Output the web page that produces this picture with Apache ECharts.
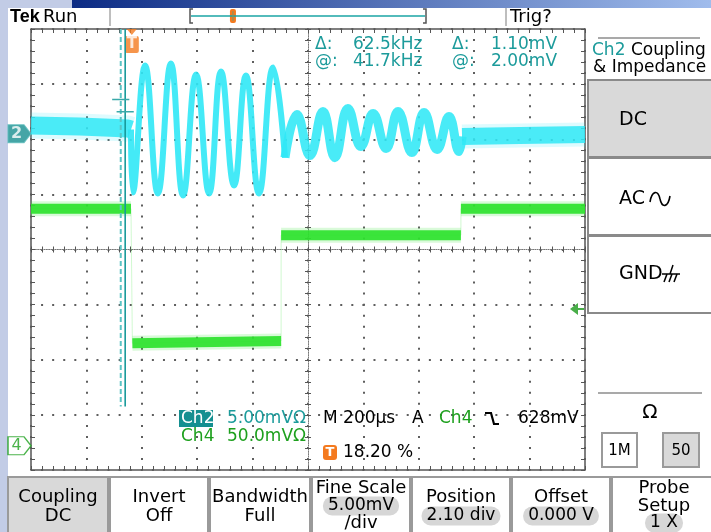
<!DOCTYPE html>
<html>
<head>
<meta charset="utf-8">
<title>Ch2 / Ch4 acquisition</title>
<script src="https://cdn.jsdelivr.net/npm/echarts@6/dist/echarts.min.js"></script>
<style>
  html, body { margin: 0; padding: 0; background: #fff; }
  #scope { width: 711px; height: 532px; }
</style>
</head>
<body>
<div id="scope"></div>
<script>
// ---- acquisition settings ----
const recordLengthUs = 2000;          // 10 div x 200 us
const timePerDivUs = 200;
const triggerPercent = 18.2;
const triggerTimeUs = recordLengthUs * triggerPercent / 100;
const ch2PositionDiv = 2.10;
const ch2MvPerDiv = 5;
const ch4PositionDiv = -3.56;
const ch4MvPerDiv = 50;

// ---- Ch2 waveform (time in us from left of record, mV) ----
const ch2PreTime  = [0, 177, 350, 361];
const ch2PreMv    = [0.74, 0.65, 0.47, 0.38];
const ch2BurstTime = [361, 368, 412, 458, 505, 549, 596, 643, 686, 733, 776, 823, 874, 917];
const ch2BurstMv   = [0.38, -5.33, 6.19, -5.42, 6.37, -5.61, 5.37, -5.42, 5.64, -4.70, 5.28, -5.42, 6.00, -2.17];
const ch2TailTime = [917, 960, 1007, 1054, 1097, 1144, 1191, 1235, 1282, 1325, 1375, 1419, 1466, 1509, 1545, 1556];
const ch2TailMv   = [-2.17, 1.74, -1.98, 2.01, -2.17, 2.29, -1.16, 1.83, -1.34, 2.01, -1.71, 1.92, -1.43, 1.56, -1.61, -0.25];
const ch2PostTime = [1556, 1765, 2000];
const ch2PostMv   = [-0.25, -0.16, -0.07];

// ---- Ch4 logic levels (segment start/end time in us, level in mV) ----
const ch4SegStart   = [0, 366, 903, 1552];
const ch4SegEnd     = [361, 903, 1552, 2000];
const ch4SegStartMv = [215, 93, 191, 215];
const ch4SegEndMv   = [215, 95, 191, 215];
const ch4TriggerArrowMv = 124;

// ---- cursors ----
const cursorOffsetUs = [-40, -24];   // relative to trigger
const cursorLevelMv  = [3.10, 2.00];

// ---- layout ----
const GRID = { left: 31, top: 29, width: 554, height: 441 };
const DIV_X = GRID.width / 10, DIV_Y = GRID.height / 8;
const FONT = '"DejaVu Sans", Verdana, sans-serif';
const TEAL = '#1c9b9b', GREEN = '#1ea01e', ORANGE = '#f47a1f';
const CYAN = '#30e8f6', LIME = '#2ee22e';

const zip = (ts, vs) => ts.map((t, i) => [t, vs[i]]);

// Ch4 data: level segments with gaps, plus full step path for edges
const ch4Levels = [];
const ch4Steps = [];
ch4SegStart.forEach((s, i) => {
  ch4Levels.push([s, ch4SegStartMv[i]], [ch4SegEnd[i], ch4SegEndMv[i]], [ch4SegEnd[i], '-']);
  ch4Steps.push([s, ch4SegStartMv[i]], [ch4SegEnd[i], ch4SegEndMv[i]]);
});

const cursorTimes = cursorOffsetUs.map(o => triggerTimeUs + o);
const cursorTickHalfUs = 31;

function traceLayer(name, data, yAxisIndex, color, width, opacity, smooth) {
  return {
    name, type: 'line', xAxisIndex: 0, yAxisIndex, data,
    symbol: 'none', smooth: smooth || false, silent: true, animation: false,
    lineStyle: { color, width, opacity, cap: 'butt', join: 'round' }
  };
}

const series = [
  traceLayer('ch4edge', ch4Steps, 6, LIME, 1, 0.22),
  traceLayer('ch4halo', ch4Levels, 6, LIME, 15, 0.18),
  traceLayer('ch4', ch4Levels, 6, LIME, 10, 0.92),

  traceLayer('ch2preHalo', zip(ch2PreTime, ch2PreMv), 5, CYAN, 26, 0.16),
  traceLayer('ch2pre', zip(ch2PreTime, ch2PreMv), 5, CYAN, 18, 0.85),
  traceLayer('ch2postHalo', zip(ch2PostTime, ch2PostMv), 5, CYAN, 24, 0.16),
  traceLayer('ch2post', zip(ch2PostTime, ch2PostMv), 5, CYAN, 17, 0.85),
  traceLayer('ch2tail', zip(ch2TailTime, ch2TailMv), 5, CYAN, 9, 0.88, 0.45),
  traceLayer('ch2burst', zip(ch2BurstTime, ch2BurstMv), 5, CYAN, 6, 0.9, 0.45),

  // time cursors (grid top down to readout area)
  {
    type: 'line', xAxisIndex: 0, yAxisIndex: 0, symbol: 'none', silent: true, animation: false,
    data: [[cursorTimes[0], 4], [cursorTimes[0], -2.85]],
    lineStyle: { color: '#5cc4c4', width: 2, type: [5, 3] }
  },
  {
    type: 'line', xAxisIndex: 0, yAxisIndex: 0, symbol: 'none', silent: true, animation: false,
    data: [[cursorTimes[1], 4], [cursorTimes[1], -2.85]],
    lineStyle: { color: '#17999a', width: 1.6 }
  },
  // waveform level ticks at each cursor
  ...cursorTimes.map((t, i) => ({
    type: 'line', xAxisIndex: 0, yAxisIndex: 5, symbol: 'none', silent: true, animation: false,
    data: [[t - cursorTickHalfUs, cursorLevelMv[i]], [t + cursorTickHalfUs, cursorLevelMv[i]]],
    lineStyle: { color: '#3aa9a9', width: 1.6 }
  })),

  // trigger position marker
  {
    type: 'scatter', xAxisIndex: 0, yAxisIndex: 0, clip: false, silent: true, animation: false,
    data: [[triggerTimeUs, 4]],
    symbol: 'path://M2,0 L12,0 L7,6 Z M2,7 L12,7 Q14,7 14,9 L14,22 Q14,24 12,24 L2,24 Q0,24 0,22 L0,9 Q0,7 2,7 Z',
    symbolSize: [14, 24], symbolOffset: [0, 12],
    itemStyle: { color: ORANGE },
    label: { show: true, position: 'inside', formatter: 'T', color: '#fff', fontWeight: 'bold',
             fontSize: 15, fontFamily: FONT, offset: [0, 3.5] }
  },
  // channel ground markers
  {
    type: 'scatter', xAxisIndex: 0, yAxisIndex: 0, clip: false, silent: true, animation: false,
    symbol: 'path://M0,0 L16,0 L23,8.5 L16,17 L0,17 Z', symbolSize: [23, 18], symbolOffset: [-11.5, 0],
    data: [
      { value: [0, ch2PositionDiv],
        itemStyle: { color: '#168f90', borderColor: '#5bbdbd', borderWidth: 1 },
        label: { show: true, position: 'inside', formatter: '2', color: '#fff', fontWeight: 'bold',
                 fontSize: 16, fontFamily: FONT, offset: [-3, 0] } },
      { value: [0, ch4PositionDiv],
        itemStyle: { color: '#fff', borderColor: GREEN, borderWidth: 1.4 },
        label: { show: true, position: 'inside', formatter: '4', color: GREEN,
                 fontSize: 16, fontFamily: FONT, offset: [-3, 0] } }
    ]
  },
  // Ch4 trigger level arrow
  {
    type: 'scatter', xAxisIndex: 0, yAxisIndex: 6, clip: false, silent: true, animation: false,
    data: [[recordLengthUs, ch4TriggerArrowMv]],
    symbol: 'path://M0,6 L8,0 L8,5 L14,5 L14,7 L8,7 L8,12 Z', symbolSize: [14, 12], symbolOffset: [-8, 0],
    itemStyle: { color: '#1c9a1c' }
  }
];

// ---- graticule axes ----
const GRAT = '#5e5e5e';
const hidden = { axisLabel: { show: false }, splitLine: { show: false } };
function tickAxis(extra) {
  return Object.assign({
    type: 'value', min: 0, max: recordLengthUs, interval: timePerDivUs / 5,
    axisLine: { show: false, onZero: false },
    axisTick: { show: true, inside: true, length: 4, lineStyle: { color: '#555', width: 1 } }
  }, hidden, extra);
}
function vTickAxis(extra) {
  return Object.assign({
    type: 'value', min: -4, max: 4, interval: 0.2,
    axisLine: { show: false, onZero: false },
    axisTick: { show: true, inside: true, length: 4, lineStyle: { color: '#555', width: 1 } }
  }, hidden, extra);
}

const xAxis = [
  { type: 'value', min: 0, max: recordLengthUs, interval: timePerDivUs, position: 'bottom',
    axisLine: { show: false, onZero: false }, axisTick: { show: false }, axisLabel: { show: false },
    splitLine: { show: true, lineStyle: { color: GRAT, width: 2, type: [2, DIV_Y / 5 - 2], dashOffset: 1 } } },
  tickAxis({ position: 'bottom' }),
  tickAxis({ position: 'top' }),
  tickAxis({ position: 'bottom', offset: -GRID.height / 2,
             axisLine: { show: true, onZero: false, lineStyle: { color: '#777', width: 1, type: [1, 1.2] } },
             axisTick: { show: true, inside: true, length: 3, lineStyle: { color: '#555' } } }),
  tickAxis({ position: 'bottom', offset: -GRID.height / 2,
             axisTick: { show: true, inside: false, length: 3, lineStyle: { color: '#555' } } })
];

const yAxis = [
  { type: 'value', min: -4, max: 4, interval: 1, position: 'left',
    axisLine: { show: false, onZero: false }, axisTick: { show: false }, axisLabel: { show: false },
    splitLine: { show: true, lineStyle: { color: GRAT, width: 2, type: [2, DIV_X / 5 - 2], dashOffset: 1 } } },
  vTickAxis({ position: 'left' }),
  vTickAxis({ position: 'right' }),
  vTickAxis({ position: 'left', offset: -GRID.width / 2,
              axisLine: { show: true, onZero: false, lineStyle: { color: '#777', width: 1, type: [1, 1.2] } },
              axisTick: { show: true, inside: true, length: 3, lineStyle: { color: '#555' } } }),
  vTickAxis({ position: 'left', offset: -GRID.width / 2,
              axisTick: { show: true, inside: false, length: 3, lineStyle: { color: '#555' } } }),
  { type: 'value', show: false, position: 'right',
    min: (-4 - ch2PositionDiv) * ch2MvPerDiv, max: (4 - ch2PositionDiv) * ch2MvPerDiv },
  { type: 'value', show: false, position: 'right',
    min: (-4 - ch4PositionDiv) * ch4MvPerDiv, max: (4 - ch4PositionDiv) * ch4MvPerDiv }
];

// ---- instrument chrome ----
const graphics = [];
function txt(x, y, text, o) {
  o = o || {};
  const align = o.align || 'left';
  const style = {
    text, fill: o.fill || '#000',
    font: (o.weight || 'normal') + ' ' + (o.size || 17) + 'px ' + (o.family || FONT),
    align, verticalAlign: 'middle', textAlign: align, textVerticalAlign: 'middle'
  };
  if (o.bg) { style.backgroundColor = o.bg; style.borderRadius = o.radius || 0; style.padding = o.pad || [0, 3]; }
  graphics.push({ type: 'text', x, y, silent: true, z: 10, style });
}
function rect(x, y, w, h, fill, stroke, lw, r) {
  graphics.push({ type: 'rect', silent: true, z: 1, shape: { x, y, width: w, height: h, r: r || 0 },
                  style: { fill, stroke: stroke || null, lineWidth: lw || 0 } });
}
function seg(points, stroke, lw, z) {
  graphics.push({ type: 'polyline', silent: true, z: z || 2, shape: { points },
                  style: { stroke, lineWidth: lw || 1, fill: null } });
}
function curve(x1, y1, cpx1, cpy1, cpx2, cpy2, x2, y2, stroke, lw) {
  graphics.push({ type: 'bezierCurve', silent: true, z: 10,
                  shape: { x1, y1, cpx1, cpy1, cpx2, cpy2, x2, y2 },
                  style: { stroke, lineWidth: lw, fill: null } });
}

// window frame
rect(0, 0, 8, 532, '#c2cce6');
rect(0, 0, 72, 8, '#c2cce6');
graphics.push({ type: 'rect', silent: true, z: 1, shape: { x: 72, y: 0, width: 639, height: 8 },
  style: { fill: new echarts.graphic.LinearGradient(0, 0, 1, 0, [
    { offset: 0, color: '#0c2b84' }, { offset: 1, color: '#a0bcec' }]) } });

// status line
txt(10, 17, 'Tek', { weight: 'bold', size: 18, family: '"Liberation Sans", Arial, sans-serif' });
txt(43, 17, 'Run', { size: 18 });
seg([[110, 8], [110, 26]], '#a8a8a8', 1.5);
seg([[506, 8], [506, 26]], '#a8a8a8', 1.5);
txt(510, 17, 'Trig?', { size: 18 });
const bracketL = 190, bracketR = 426;
seg([[193, 9], [190, 9], [190, 23], [193, 23]], '#555', 1.5);
seg([[423, 9], [426, 9], [426, 23], [423, 23]], '#555', 1.5);
seg([[191, 16], [425, 16]], '#1aa4a4', 1.5);
const trigBarX = bracketL + (bracketR - bracketL) * triggerPercent / 100;
rect(trigBarX - 3, 9, 6, 14, ORANGE, null, 0, 2);
seg([[trigBarX, 11], [trigBarX, 21]], '#7a9a6a', 1);

// side menu
seg([[598, 38], [700, 38]], '#8c8c8c', 1.5);
txt(592, 51, 'Ch2', { fill: TEAL });
txt(631, 51, 'Coupling');
txt(593, 68, '& Impedance');
rect(588, 80, 130, 77, '#d9d9d9', '#8a8a8a', 2);
rect(588, 158, 130, 77, '#ffffff', '#8a8a8a', 2);
rect(588, 236, 130, 77, '#ffffff', '#8a8a8a', 2);
txt(619, 120, 'DC', { size: 19 });
txt(619, 199, 'AC', { size: 19 });
curve(650, 202, 652, 190, 658, 190, 660, 199, '#000', 1.6);
curve(660, 199, 662, 208, 668, 208, 670, 196, '#000', 1.6);
txt(619, 274, 'GND', { size: 19 });
seg([[662, 274], [680, 274]], '#000', 1.5, 10);
seg([[673, 265], [670, 274]], '#000', 1.5, 10);
seg([[667, 274], [664, 282]], '#000', 1.5, 10);
seg([[672, 274], [669, 282]], '#000', 1.5, 10);
seg([[677, 274], [674, 282]], '#000', 1.5, 10);
seg([[598, 393], [702, 393]], '#8c8c8c', 1.5);
txt(650, 413, 'Ω', { size: 20, align: 'center' });
rect(602, 433, 35, 34, '#ffffff', '#9a9a9a', 2);
txt(619.5, 451, '1M', { size: 15, align: 'center' });
rect(663, 433, 36, 34, '#d9d9d9', '#9a9a9a', 2);
txt(681, 451, '50', { size: 15, align: 'center' });

// bottom menu
const menu = [
  { x: 8, w: 100, lines: ['Coupling', 'DC'], active: true },
  { x: 110, w: 98, lines: ['Invert', 'Off'] },
  { x: 210, w: 100, lines: ['Bandwidth', 'Full'] },
  { x: 312, w: 98, lines: ['Fine Scale', '[5.00mV', '/div'] },
  { x: 412, w: 98, lines: ['Position', '[2.10 div'] },
  { x: 512, w: 98, lines: ['Offset', '[0.000 V'] },
  { x: 612, w: 104, lines: ['Probe', 'Setup', '[1 X'] }
];
menu.forEach(b => {
  rect(b.x, 477, b.w, 60, b.active ? '#d9d9d9' : '#ffffff', '#9a9a9a', 2);
  const cx = b.x + b.w / 2;
  const ys = b.lines.length === 3 ? [488, 506, 523] : [497, 516];
  b.lines.forEach((l, i) => {
    if (l[0] === '[') txt(cx, ys[i], l.slice(1), { size: 17, align: 'center', bg: '#d6d6d6', radius: 9, pad: [1, 5] });
    else txt(cx, ys[i], l, { size: 18, align: 'center' });
  });
});

// measurement readout
txt(315, 45, 'Δ:', { fill: TEAL });
txt(353, 45, '62.5kHz', { fill: TEAL });
txt(452, 45, 'Δ:', { fill: TEAL });
txt(491, 45, '1.10mV', { fill: TEAL });
txt(315, 62, '@:', { fill: TEAL });
txt(353, 62, '41.7kHz', { fill: TEAL });
txt(452, 62, '@:', { fill: TEAL });
txt(491, 62, '2.00mV', { fill: TEAL });

// channel / timebase readout
rect(179, 410, 34, 17, '#148f90');
txt(181, 419, 'Ch2', { fill: '#fff' });
txt(227, 419, '5.00mVΩ', { fill: TEAL });
txt(181, 437, 'Ch4', { fill: GREEN });
txt(227, 437, '50.0mVΩ', { fill: GREEN });
txt(323, 419, 'M 200µs', {});
txt(412, 419, 'A', {});
txt(439, 419, 'Ch4', { fill: GREEN });
seg([[485, 413], [491, 413], [494, 424], [499, 424]], '#000', 2.2, 10);
txt(518, 419, '628mV', {});
rect(323, 445, 14, 15, ORANGE, null, 0, 3);
txt(330, 453, 'T', { fill: '#fff', weight: 'bold', size: 13, align: 'center' });
txt(343, 453, '18.20 %', {});

const chart = echarts.init(document.getElementById('scope'), null, { renderer: 'canvas' });
chart.setOption({
  animation: false,
  backgroundColor: '#ffffff',
  grid: { left: GRID.left, top: GRID.top, width: GRID.width, height: GRID.height,
          show: true, borderColor: '#555', borderWidth: 1.5, backgroundColor: 'transparent' },
  xAxis, yAxis, series,
  graphic: { elements: graphics }
});
</script>
</body>
</html>
